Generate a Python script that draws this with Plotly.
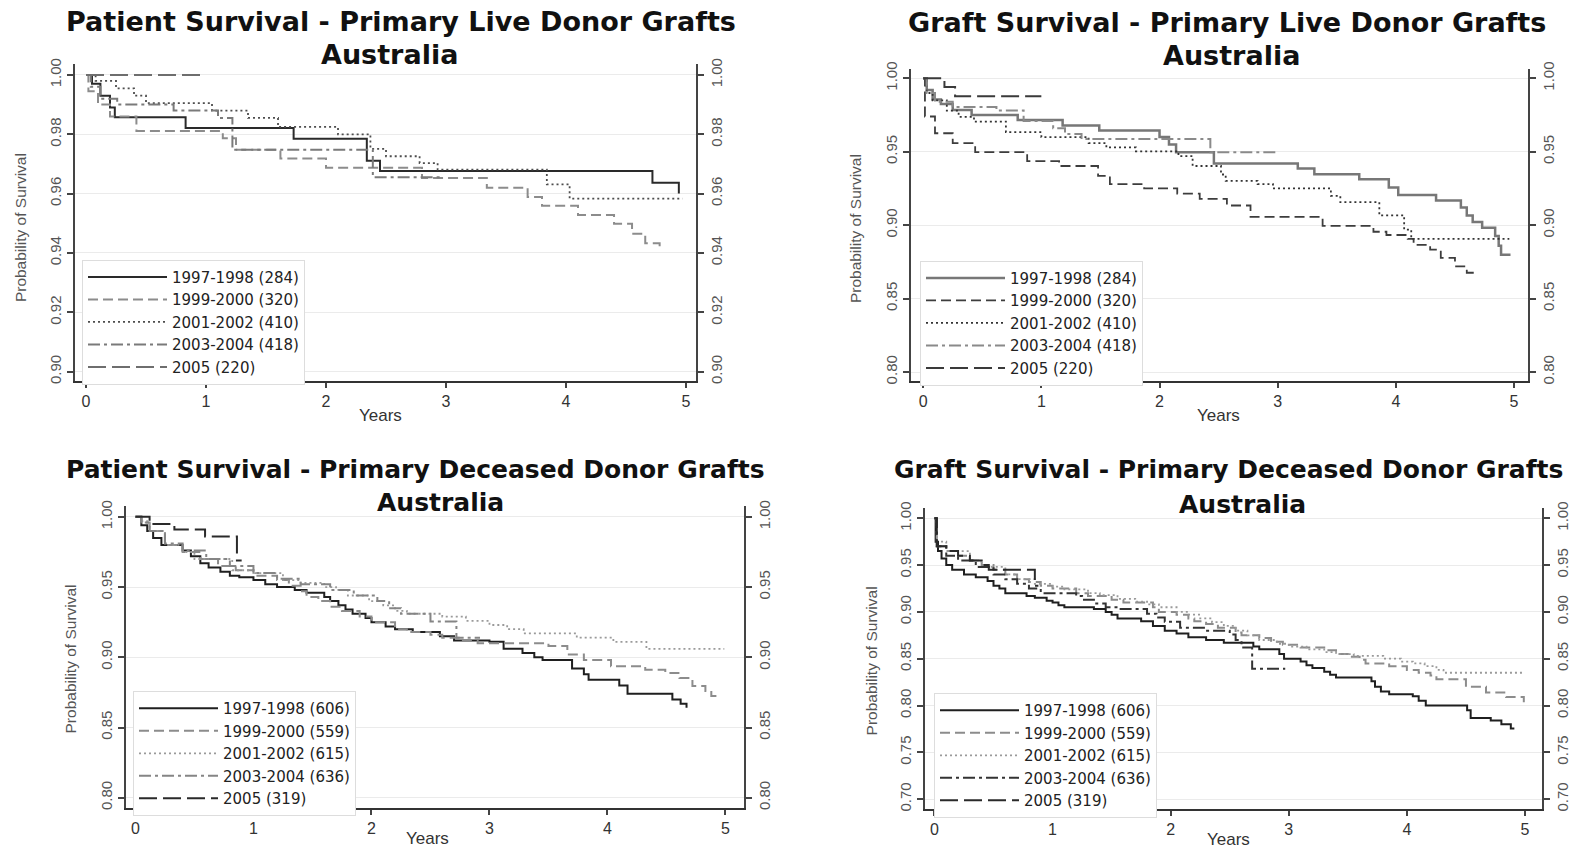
import plotly.graph_objects as go

W, H = 1577, 852

# ---------------------------------------------------------------- data
LABELS_LIVE = ["1997-1998 (284)", "1999-2000 (320)", "2001-2002 (410)",
               "2003-2004 (418)", "2005 (220)"]
LABELS_DECEASED = ["1997-1998 (606)", "1999-2000 (559)", "2001-2002 (615)",
                   "2003-2004 (636)", "2005 (319)"]

X_TICKS = [0, 1, 2, 3, 4, 5]
Y_TICKS_P1 = [0.90, 0.92, 0.94, 0.96, 0.98, 1.00]
Y_TICKS_P2 = [0.80, 0.85, 0.90, 0.95, 1.00]
Y_TICKS_P3 = [0.80, 0.85, 0.90, 0.95, 1.00]
Y_TICKS_P4 = [0.70, 0.75, 0.80, 0.85, 0.90, 0.95, 1.00]

# Patient survival, live donor grafts (years, survival probability)
P1_T_9798 = [0, 0.05, 0.12, 0.20, 0.24, 0.83, 1.73, 2.34, 2.45, 4.72, 4.94]
P1_S_9798 = [1.0, 0.997, 0.993, 0.989, 0.9857, 0.9821, 0.9785, 0.9711, 0.9676, 0.9637, 0.960]
P1_T_9900 = [0, 0.02, 0.10, 0.20, 0.42, 1.14, 1.25, 1.62, 2.00, 2.80, 3.34, 3.68, 3.80,
             4.10, 4.40, 4.55, 4.66, 4.78]
P1_S_9900 = [1.0, 0.9945, 0.990, 0.986, 0.9811, 0.9787, 0.9748, 0.9718, 0.9687, 0.9653,
             0.962, 0.9589, 0.9559, 0.9528, 0.9498, 0.9465, 0.9433, 0.9407]
P1_T_0102 = [0, 0.08, 0.25, 0.40, 0.50, 1.05, 1.35, 1.60, 2.10, 2.37, 2.50, 2.78, 2.93,
             3.84, 4.03, 4.97]
P1_S_0102 = [1.0, 0.998, 0.9955, 0.993, 0.9905, 0.988, 0.9855, 0.9825, 0.980, 0.9751,
             0.9726, 0.9703, 0.9681, 0.9631, 0.9583, 0.9583]
P1_T_0304 = [0, 0.04, 0.12, 0.26, 0.73, 1.10, 1.22, 2.39, 2.98]
P1_S_0304 = [1.0, 0.996, 0.992, 0.990, 0.988, 0.9855, 0.9748, 0.9655, 0.9655]
P1_T_05 = [0, 0.97]
P1_S_05 = [1.0, 1.0]

# Graft survival, live donor grafts
P2_T_9798 = [0, 0.03, 0.08, 0.15, 0.25, 0.41, 0.80, 1.18, 1.49, 2.00, 2.08, 2.14, 2.46,
             3.17, 3.31, 3.69, 3.94, 4.02, 4.34, 4.55, 4.60, 4.65, 4.73, 4.84, 4.87, 4.89, 4.97]
P2_S_9798 = [1.0, 0.992, 0.9855, 0.9825, 0.9785, 0.975, 0.9716, 0.9678, 0.9644, 0.960,
             0.955, 0.9497, 0.942, 0.9385, 0.9347, 0.9313, 0.9257, 0.9206, 0.9168, 0.912,
             0.9065, 0.9022, 0.8982, 0.8926, 0.886, 0.8799, 0.8799]
P2_T_9900 = [0, 0.015, 0.10, 0.25, 0.44, 0.88, 1.15, 1.48, 1.58, 1.87, 2.15, 2.34, 2.57,
             2.77, 3.38, 3.81, 3.92, 4.10, 4.15, 4.29, 4.38, 4.50, 4.60, 4.69]
P2_S_9900 = [1.0, 0.974, 0.9626, 0.9559, 0.9497, 0.9436, 0.9403, 0.9336, 0.928, 0.925,
             0.9215, 0.9179, 0.9134, 0.9056, 0.8995, 0.8955, 0.8933, 0.8906, 0.8866,
             0.8833, 0.8777, 0.872, 0.8676, 0.8676]
P2_T_0102 = [0, 0.03, 0.08, 0.20, 0.30, 0.43, 0.70, 1.00, 1.40, 1.55, 1.80, 2.16, 2.28,
             2.52, 2.56, 2.83, 2.96, 3.45, 3.53, 3.86, 4.07, 4.13, 4.96]
P2_S_0102 = [1.0, 0.990, 0.985, 0.978, 0.9738, 0.9705, 0.9633, 0.960, 0.9559, 0.9529,
             0.9503, 0.947, 0.9403, 0.9345, 0.9302, 0.928, 0.925, 0.920, 0.9157, 0.9067,
             0.897, 0.8906, 0.8906]
P2_T_0304 = [0, 0.03, 0.10, 0.25, 0.62, 0.85, 1.10, 1.20, 1.34, 2.43, 3.00]
P2_S_0304 = [1.0, 0.990, 0.984, 0.9805, 0.978, 0.971, 0.966, 0.962, 0.9586, 0.9497, 0.9497]
P2_T_05 = [0, 0.18, 0.27, 1.00]
P2_S_05 = [1.0, 0.994, 0.9877, 0.9877]

# Patient survival, deceased donor grafts
P3_T_9798 = [0, 0.05, 0.10, 0.15, 0.22, 0.40, 0.47, 0.55, 0.62, 0.72, 0.80, 0.88, 1.00,
             1.10, 1.20, 1.35, 1.45, 1.60, 1.65, 1.72, 1.78, 1.84, 1.95, 2.00, 2.12, 2.20,
             2.35, 2.58, 2.70, 3.00, 3.12, 3.28, 3.38, 3.45, 3.70, 3.80, 3.84, 4.10, 4.17,
             4.55, 4.62, 4.67]
P3_S_9798 = [1.0, 0.994, 0.990, 0.985, 0.980, 0.976, 0.972, 0.967, 0.964, 0.961, 0.958,
             0.957, 0.955, 0.952, 0.950, 0.948, 0.946, 0.943, 0.940, 0.937, 0.934, 0.931,
             0.928, 0.925, 0.922, 0.920, 0.918, 0.915, 0.912, 0.911, 0.906, 0.903, 0.900,
             0.898, 0.892, 0.888, 0.884, 0.880, 0.874, 0.870, 0.867, 0.864]
P3_T_9900 = [0, 0.05, 0.12, 0.25, 0.40, 0.55, 0.70, 0.85, 1.00, 1.20, 1.30, 1.40, 1.45,
             1.55, 1.65, 1.75, 1.90, 2.00, 2.20, 2.30, 2.50, 2.60, 2.75, 2.90, 3.50, 3.66,
             3.80, 4.03, 4.32, 4.49, 4.61, 4.72, 4.83, 4.88, 4.95]
P3_S_9900 = [1.0, 0.996, 0.990, 0.980, 0.975, 0.970, 0.965, 0.962, 0.958, 0.955, 0.951,
             0.947, 0.943, 0.940, 0.936, 0.933, 0.929, 0.925, 0.920, 0.918, 0.916, 0.914,
             0.912, 0.910, 0.908, 0.902, 0.898, 0.8936, 0.8912, 0.8889, 0.8853, 0.8795,
             0.876, 0.8725, 0.8725]
P3_T_0102 = [0, 0.05, 0.12, 0.25, 0.40, 0.50, 0.82, 1.00, 1.25, 1.40, 1.60, 1.70, 1.80,
             1.98, 2.10, 2.20, 2.30, 2.60, 2.80, 3.00, 3.15, 3.29, 3.74, 4.05, 4.33, 4.99]
P3_S_0102 = [1.0, 0.997, 0.990, 0.980, 0.975, 0.970, 0.962, 0.960, 0.955, 0.953, 0.950,
             0.948, 0.944, 0.940, 0.937, 0.933, 0.931, 0.929, 0.926, 0.923, 0.920, 0.917,
             0.914, 0.911, 0.906, 0.906]
P3_T_0304 = [0, 0.05, 0.12, 0.25, 0.40, 0.60, 0.80, 1.00, 1.20, 1.40, 1.65, 1.85, 2.05,
             2.15, 2.25, 2.50, 2.72, 2.92]
P3_S_0304 = [1.0, 0.996, 0.990, 0.981, 0.976, 0.970, 0.965, 0.960, 0.956, 0.952, 0.948,
             0.944, 0.940, 0.935, 0.931, 0.9255, 0.914, 0.914]
P3_T_05 = [0, 0.12, 0.33, 0.59, 0.86, 0.90]
P3_S_05 = [1.0, 0.995, 0.991, 0.986, 0.969, 0.969]

# Graft survival, deceased donor grafts
P4_T_9798 = [0, 0.01, 0.03, 0.06, 0.10, 0.15, 0.25, 0.35, 0.45, 0.50, 0.55, 0.60, 0.78,
             0.85, 0.95, 1.00, 1.05, 1.10, 1.35, 1.45, 1.50, 1.55, 1.75, 1.85, 1.95, 2.05,
             2.15, 2.30, 2.45, 2.70, 2.75, 2.92, 2.96, 3.10, 3.15, 3.20, 3.30, 3.35, 3.40,
             3.70, 3.73, 3.78, 3.85, 4.05, 4.10, 4.16, 4.51, 4.54, 4.71, 4.80, 4.88, 4.91]
P4_S_9798 = [1.0, 0.975, 0.965, 0.957, 0.950, 0.945, 0.940, 0.937, 0.933, 0.928, 0.925,
             0.920, 0.917, 0.915, 0.912, 0.910, 0.907, 0.905, 0.903, 0.900, 0.897, 0.893,
             0.890, 0.885, 0.880, 0.877, 0.873, 0.870, 0.867, 0.863, 0.860, 0.855, 0.850,
             0.847, 0.843, 0.840, 0.836, 0.833, 0.830, 0.826, 0.820, 0.815, 0.812, 0.810,
             0.805, 0.800, 0.795, 0.7867, 0.784, 0.780, 0.7754, 0.7754]
P4_T_9900 = [0, 0.02, 0.10, 0.20, 0.30, 0.40, 0.50, 0.60, 0.70, 0.80, 0.90, 1.00, 1.20,
             1.30, 1.50, 1.60, 1.85, 1.90, 2.05, 2.15, 2.20, 2.30, 2.40, 2.55, 2.60, 2.75,
             2.85, 2.95, 3.10, 3.30, 3.40, 3.50, 3.60, 3.65, 3.85, 4.00, 4.10, 4.20, 4.25,
             4.50, 4.67, 4.84, 4.99]
P4_S_9900 = [1.0, 0.970, 0.965, 0.960, 0.955, 0.950, 0.945, 0.940, 0.935, 0.932, 0.928,
             0.925, 0.920, 0.917, 0.913, 0.910, 0.905, 0.900, 0.897, 0.893, 0.890, 0.887,
             0.883, 0.878, 0.875, 0.872, 0.868, 0.865, 0.862, 0.859, 0.855, 0.852, 0.849,
             0.845, 0.842, 0.838, 0.835, 0.832, 0.828, 0.820, 0.814, 0.809, 0.8035]
P4_T_0102 = [0, 0.02, 0.10, 0.30, 0.40, 0.60, 0.70, 0.85, 1.00, 1.10, 1.30, 1.40, 1.55,
             1.70, 1.80, 1.90, 2.05, 2.15, 2.25, 2.35, 2.45, 2.55, 2.65, 2.75, 2.90, 3.00,
             3.15, 3.30, 3.40, 3.55, 3.80, 3.95, 4.05, 4.15, 4.25, 4.31, 4.99]
P4_S_0102 = [1.0, 0.975, 0.965, 0.955, 0.948, 0.940, 0.935, 0.930, 0.927, 0.924, 0.920,
             0.918, 0.914, 0.911, 0.908, 0.905, 0.900, 0.897, 0.893, 0.889, 0.885, 0.880,
             0.875, 0.870, 0.866, 0.863, 0.860, 0.857, 0.855, 0.853, 0.850, 0.847, 0.845,
             0.842, 0.838, 0.835, 0.835]
P4_T_0304 = [0, 0.02, 0.10, 0.20, 0.35, 0.50, 0.60, 0.70, 0.80, 0.90, 1.20, 1.25, 1.35,
             1.45, 1.55, 1.80, 1.88, 1.95, 2.08, 2.30, 2.50, 2.55, 2.60, 2.69, 2.97]
P4_S_0304 = [1.0, 0.970, 0.960, 0.955, 0.948, 0.940, 0.935, 0.930, 0.925, 0.920, 0.917,
             0.913, 0.909, 0.905, 0.903, 0.898, 0.894, 0.8895, 0.883, 0.880, 0.876, 0.870,
             0.862, 0.8393, 0.8393]
P4_T_05 = [0, 0.02, 0.10, 0.20, 0.30, 0.40, 0.46, 0.85, 0.88]
P4_S_05 = [1.0, 0.970, 0.965, 0.960, 0.955, 0.950, 0.945, 0.928, 0.928]

# ---------------------------------------------------------------- layout helpers
FONT = "Liberation Sans, Arial, Helvetica, sans-serif"
TITLE_FONT = "DejaVu Sans, Verdana, sans-serif"
DASHES = ["solid", "10px,5px", "2px,3px", "12px,4px,3px,4px", "18px,6px"]


def fx(px):
    return px / W


def fy(px):
    return 1 - px / H


PANELS = [
    dict(
        title="Patient Survival - Primary Live Donor Grafts", title_xy=(401, 14),
        sub_xy=(389, 47), title_size=27,
        box=(75, 57, 696, 378), xrange=[-0.0917, 5.083], yrange=[0.8968, 1.0036],
        yticks=Y_TICKS_P1, ytitle_xy=(20, 223), years_xy=(380, 413),
        legend_xy=(82, 255), labels=LABELS_LIVE,
        series=[(P1_T_9798, P1_S_9798), (P1_T_9900, P1_S_9900), (P1_T_0102, P1_S_0102),
                (P1_T_0304, P1_S_0304), (P1_T_05, P1_S_05)],
        colors=["#2a2a2a", "#8c8c8c", "#4d4d4d", "#7a7a7a", "#6e6e6e"],
        widths=[2, 2, 1.8, 2, 2],
    ),
    dict(
        title="Graft Survival - Primary Live Donor Grafts", title_xy=(1227, 15),
        sub_xy=(1231, 48), title_size=27,
        box=(911, 62, 1528, 378), xrange=[-0.103, 5.118], yrange=[0.7938, 1.0062],
        yticks=Y_TICKS_P2, ytitle_xy=(855, 224), years_xy=(1218, 413),
        legend_xy=(920, 256), labels=LABELS_LIVE,
        series=[(P2_T_9798, P2_S_9798), (P2_T_9900, P2_S_9900), (P2_T_0102, P2_S_0102),
                (P2_T_0304, P2_S_0304), (P2_T_05, P2_S_05)],
        colors=["#777777", "#3d3d3d", "#333333", "#8a8a8a", "#3a3a3a"],
        widths=[2.5, 1.8, 1.8, 2, 2],
    ),
    dict(
        title="Patient Survival - Primary Deceased Donor Grafts", title_xy=(415, 468),
        sub_xy=(440, 501), title_size=25,
        box=(126, 505, 744, 810), xrange=[-0.08, 5.157], yrange=[0.793, 1.0074],
        yticks=Y_TICKS_P3, ytitle_xy=(70, 660), years_xy=(427, 841),
        legend_xy=(133, 692), labels=LABELS_DECEASED,
        series=[(P3_T_9798, P3_S_9798), (P3_T_9900, P3_S_9900), (P3_T_0102, P3_S_0102),
                (P3_T_0304, P3_S_0304), (P3_T_05, P3_S_05)],
        colors=["#1f1f1f", "#8c8c8c", "#9a9a9a", "#858585", "#2a2a2a"],
        widths=[2, 2, 1.8, 2, 2],
    ),
    dict(
        title="Graft Survival - Primary Deceased Donor Grafts", title_xy=(1228, 468),
        sub_xy=(1242, 503), title_size=25,
        box=(925, 507, 1542, 811), xrange=[-0.08, 5.144], yrange=[0.690, 1.0105],
        yticks=Y_TICKS_P4, ytitle_xy=(871, 662), years_xy=(1228, 842),
        legend_xy=(934, 694), labels=LABELS_DECEASED,
        series=[(P4_T_9798, P4_S_9798), (P4_T_9900, P4_S_9900), (P4_T_0102, P4_S_0102),
                (P4_T_0304, P4_S_0304), (P4_T_05, P4_S_05)],
        colors=["#1f1f1f", "#8c8c8c", "#9a9a9a", "#333333", "#2a2a2a"],
        widths=[2, 2, 1.8, 2, 2],
    ),
]

fig = go.Figure()
layout = dict(
    width=W, height=H, autosize=False,
    margin=dict(l=0, r=0, t=0, b=0),
    paper_bgcolor="white", plot_bgcolor="white",
    font=dict(family=FONT, color="#333"),
    annotations=[],
)

for k, p in enumerate(PANELS, start=1):
    xa = "x" if k == 1 else f"x{k}"
    ya = "y" if k == 1 else f"y{k}"
    yr = f"y{k + 4}"
    lg = "legend" if k == 1 else f"legend{k}"
    x0, y0, x1, y1 = p["box"]
    n = len(p["series"])

    for i, ((t, s), label, color, width, dash) in enumerate(
            zip(p["series"], p["labels"], p["colors"], p["widths"], DASHES)):
        # the last cohort is plotted against the right-hand axis (same scale),
        # so that axis carries its own ticks and labels
        fig.add_trace(go.Scatter(
            x=t, y=s, mode="lines", name=label,
            line=dict(shape="hv", color=color, width=width, dash=dash),
            xaxis=xa, yaxis=(yr if i == n - 1 else ya), legend=lg, hoverinfo="skip",
        ))

    layout["xaxis" if k == 1 else f"xaxis{k}"] = dict(
        domain=[fx(x0), fx(x1)], anchor=ya, range=p["xrange"],
        tickvals=X_TICKS, ticks="outside", ticklen=5, tickwidth=1.5, tickcolor="#444",
        showline=True, linecolor="#333", linewidth=2, showgrid=False, zeroline=False,
        tickfont=dict(size=16, color="#333"),
    )
    yax = dict(
        range=p["yrange"], tickvals=p["yticks"], tickformat=".2f", tickangle=-90,
        ticks="outside", ticklen=6, tickwidth=1.5, tickcolor="#444",
        showline=True, linecolor="#444", linewidth=2, zeroline=False,
        tickfont=dict(size=15, color="#555"),
    )
    layout["yaxis" if k == 1 else f"yaxis{k}"] = dict(
        yax, domain=[fy(y1), fy(y0)], anchor=xa, side="left",
        showgrid=True, gridcolor="#ebebeb", gridwidth=1,
    )
    layout[f"yaxis{k + 4}"] = dict(
        yax, overlaying=ya, anchor=xa, side="right", showgrid=False,
    )

    lx, ly = p["legend_xy"]
    layout[lg] = dict(
        x=fx(lx), y=fy(ly), xanchor="left", yanchor="top",
        bgcolor="white", bordercolor="#dddddd", borderwidth=1,
        font=dict(family="DejaVu Sans, sans-serif", size=15, color="#222"),
        itemwidth=79, traceorder="normal",
    )

    tx, ty = p["title_xy"]
    sx, sy = p["sub_xy"]
    tfont = dict(family=TITLE_FONT, size=p["title_size"], color="#111", weight="bold")
    layout["annotations"] += [
        dict(text=p["title"], x=fx(tx), y=fy(ty), xref="paper", yref="paper",
             xanchor="center", yanchor="middle", showarrow=False, font=tfont),
        dict(text="Australia", x=fx(sx), y=fy(sy), xref="paper", yref="paper",
             xanchor="center", yanchor="middle", showarrow=False, font=tfont),
        dict(text="Probability of Survival", x=fx(p["ytitle_xy"][0]), y=fy(p["ytitle_xy"][1]),
             xref="paper", yref="paper", xanchor="center", yanchor="middle",
             textangle=-90, showarrow=False, font=dict(family=FONT, size=15.5, color="#555")),
        dict(text="Years", x=fx(p["years_xy"][0]), y=fy(p["years_xy"][1]),
             xref="paper", yref="paper", xanchor="center", yanchor="middle",
             showarrow=False, font=dict(family=FONT, size=17, color="#333")),
    ]

fig.update_layout(**layout)
fig.write_html("out.html")
